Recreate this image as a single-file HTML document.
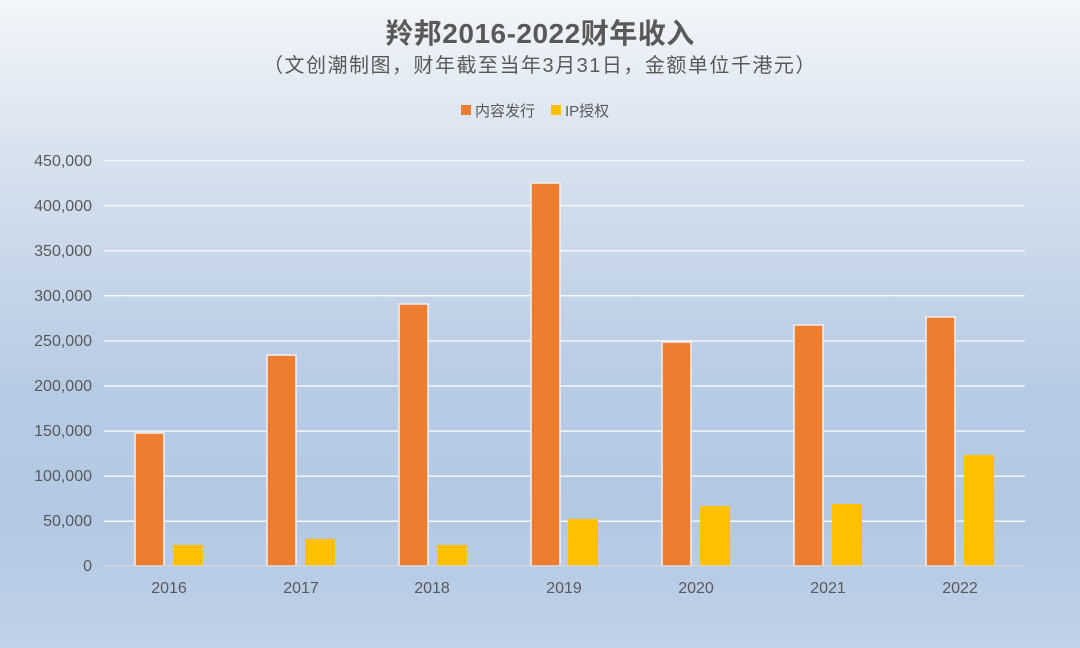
<!DOCTYPE html>
<html><head><meta charset="utf-8"><style>
html,body{margin:0;padding:0;overflow:hidden}
body{width:1080px;height:648px;background:linear-gradient(180deg,#f3f6fa 0%,#d6e1ee 25%,#b7cbe4 60%,#b3c8e3 80%,#c0d1e8 100%);font-family:"Liberation Sans","Noto Sans CJK SC",sans-serif}
svg{display:block}
</style></head><body>
<svg width="1080" height="648" xmlns="http://www.w3.org/2000/svg" font-family="Liberation Sans, Noto Sans CJK SC, sans-serif">
<text x="540" y="43" text-anchor="middle" font-size="28" font-weight="bold" fill="#595959" letter-spacing="0.5">羚邦2016-2022财年收入</text>
<text x="540" y="72" text-anchor="middle" font-size="20" fill="#595959" letter-spacing="1.5">（文创潮制图，财年截至当年3月31日，金额单位千港元）</text>
<rect x="461" y="105" width="10" height="10" fill="#ed7d31"/>
<text x="475" y="116" font-size="15" fill="#595959">内容发行</text>
<rect x="551" y="105" width="10" height="10" fill="#ffc000"/>
<text x="565" y="116" font-size="15" fill="#595959">IP授权</text>
<g stroke="#f4f7fb" stroke-width="1.5">
<line x1="104" x2="1025" y1="160.5" y2="160.5"/><line x1="104" x2="1025" y1="205.6" y2="205.6"/><line x1="104" x2="1025" y1="250.7" y2="250.7"/><line x1="104" x2="1025" y1="295.8" y2="295.8"/><line x1="104" x2="1025" y1="340.9" y2="340.9"/><line x1="104" x2="1025" y1="386" y2="386"/><line x1="104" x2="1025" y1="431.1" y2="431.1"/><line x1="104" x2="1025" y1="476.2" y2="476.2"/><line x1="104" x2="1025" y1="521.3" y2="521.3"/>
</g>
<g font-size="16" fill="#595959" text-anchor="end">
<text x="92" y="166">450,000</text><text x="92" y="211">400,000</text><text x="92" y="256">350,000</text><text x="92" y="301">300,000</text><text x="92" y="346">250,000</text><text x="92" y="391">200,000</text><text x="92" y="436">150,000</text><text x="92" y="481">100,000</text><text x="92" y="526">50,000</text><text x="92" y="571">0</text>
</g>
<g fill="#ed7d31" stroke="#f2f2f2" stroke-width="1.5">
<rect x="135" y="433" width="29" height="133"/>
<rect x="267" y="355" width="29" height="211"/>
<rect x="399" y="304" width="29" height="262"/>
<rect x="531" y="183" width="29" height="383"/>
<rect x="662" y="342" width="29" height="224"/>
<rect x="794" y="325" width="29" height="241"/>
<rect x="926" y="317" width="29" height="249"/>
</g>
<g fill="#ffc000">
<rect x="173" y="545" width="30" height="21"/>
<rect x="305" y="539" width="30" height="27"/>
<rect x="437" y="545" width="30" height="21"/>
<rect x="568" y="519" width="30" height="47"/>
<rect x="700" y="506" width="30" height="60"/>
<rect x="832" y="504" width="30" height="62"/>
<rect x="964" y="455" width="30" height="111"/>
</g>
<line x1="104" x2="1025" y1="566" y2="566" stroke="#d0d4d9" stroke-width="1.5"/>
<g font-size="16" fill="#595959" text-anchor="middle">
<text x="169" y="593">2016</text><text x="301" y="593">2017</text><text x="432" y="593">2018</text><text x="564" y="593">2019</text><text x="696" y="593">2020</text><text x="828" y="593">2021</text><text x="960" y="593">2022</text>
</g>
</svg>
</body></html>
